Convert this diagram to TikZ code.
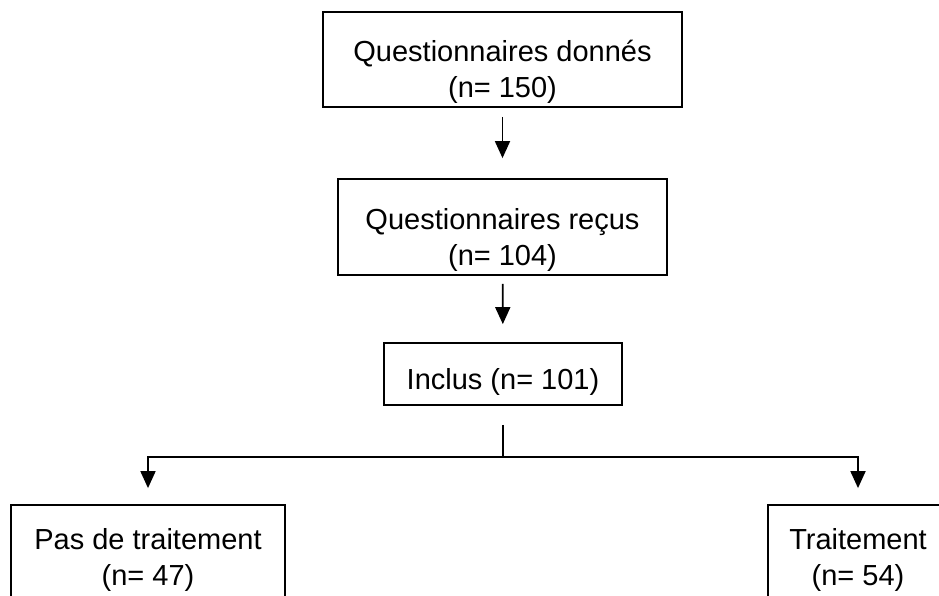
\documentclass[tikz,border=0pt]{standalone}
\usepackage{fontspec}
\setmainfont{Liberation Sans}
\usetikzlibrary{arrows.meta}
\newcommand{\padtop}[1]{\rule{0pt}{#1}}

\begin{document}
\begin{tikzpicture}[x=1pt,y=-1pt,line width=1.8pt,
    box/.style={draw,align=center,inner sep=0pt,font=\fontsize{29}{36}\selectfont},
    flow/.style={-{Triangle[width=15pt,length=17pt]}}]
  \clip (0,0) rectangle (939,595);
  \useasboundingbox (0,0) rectangle (939,595);

  \node[box,minimum width=359pt,minimum height=95pt] (donnes) at (502.5,59.5) {\padtop{46pt}Questionnaires donnés\\(n= 150)};
  \node[box,minimum width=329pt,minimum height=96pt] (recus)  at (502.5,227)  {\padtop{46pt}Questionnaires reçus\\(n= 104)};
  \node[box,minimum width=238pt,minimum height=62pt] (inclus) at (503,374)    {\padtop{36pt}Inclus (n= 101)};
  \node[box,minimum width=274pt,minimum height=110pt] (sans)  at (148,560)    {Pas de traitement\\(n= 47)};
  \node[box,minimum width=180pt,minimum height=110pt] (avec)  at (858,560)    {Traitement\\(n= 54)};
  \coordinate (split) at (503,457);

  \draw[flow,shorten <=9pt,shorten >=20pt] (donnes) -- (recus);
  \draw[flow,shorten <=8pt,shorten >=18pt] (recus) -- (inclus);
  \draw[shorten <=19pt] (inclus) -- (split);
  \draw[flow,shorten >=16pt] (split) -| (sans);
  \draw[flow,shorten >=16pt] (split) -| (avec);
\end{tikzpicture}
\end{document}
